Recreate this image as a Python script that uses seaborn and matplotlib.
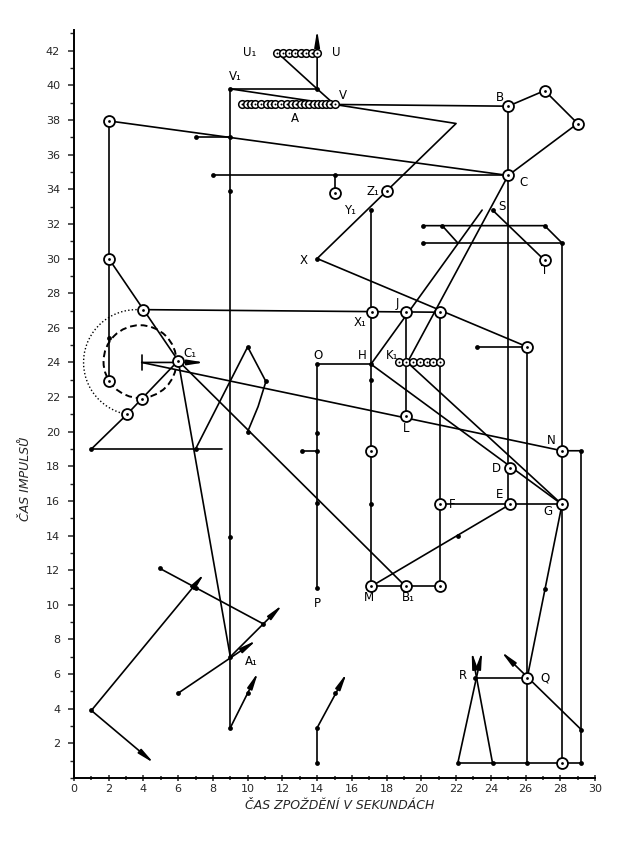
import numpy as np
import pandas as pd
import matplotlib
matplotlib.use("Agg")
import matplotlib.pyplot as plt
import seaborn as sns
from matplotlib.patches import Circle, Arc

# ---------------- data ----------------
x_ticks = list(range(0, 31, 2))
y_ticks = list(range(2, 43, 2))
x_label = "ČAS ZPOŽDĚNÍ V SEKUNDÁCH"
y_label = "ČAS IMPULSŮ"

top_paths = [
    [(11.7, 41.9), (14.0, 39.8), (15.0, 38.9)],
    [(9.0, 39.8), (14.0, 39.8)],
    [(9.0, 39.8), (15.0, 38.9)],
    [(15.0, 38.9), (25.0, 38.8)],
    [(15.0, 38.9), (22.0, 37.8), (14.0, 30.0), (26.1, 24.9)],
    [(25.0, 38.8), (27.1, 39.7), (29.0, 37.8), (25.0, 34.8)],
    [(2.0, 37.95), (25.0, 34.8)],
    [(7.0, 37.0), (9.0, 37.0)],
    [(8.0, 34.8), (25.0, 34.8)],
    [(15.0, 34.8), (15.0, 33.8)],
]

vertical_paths = [
    [(9.0, 39.8), (9.0, 2.9)],
    [(2.0, 37.95), (2.0, 22.9)],
    [(25.0, 38.8), (25.0, 15.8)],
    [(17.1, 32.8), (17.1, 11.06)],
    [(14.0, 23.9), (14.0, 11.0)],
    [(19.1, 26.9), (19.1, 20.9)],
    [(21.1, 26.9), (21.1, 11.06)],
    [(26.1, 24.9), (26.1, 0.86)],
    [(28.1, 30.9), (28.1, 0.86)],
    [(29.2, 18.9), (29.2, 0.86)],
]

mid_paths = [
    [(2.0, 30.0), (4.0, 27.05), (6.0, 24.1), (19.1, 11.06)],
    [(4.0, 27.05), (21.1, 26.9)],
    [(14.0, 23.9), (17.1, 23.9)],
    [(13.1, 18.9), (14.0, 18.9)],
    [(17.1, 23.9), (23.5, 32.8)],
    [(19.2, 24.0), (25.0, 34.8)],
    [(24.1, 32.8), (27.1, 29.9)],
    [(20.1, 31.9), (27.1, 31.9), (28.1, 30.9)],
    [(20.1, 30.9), (28.1, 30.9)],
    [(21.2, 31.9), (22.1, 30.9)],
    [(23.2, 24.9), (26.1, 24.9)],
    [(17.1, 11.06), (21.1, 11.06)],
    [(17.1, 11.06), (25.1, 15.8)],
    [(21.1, 15.8), (28.1, 15.8)],
    [(17.1, 23.9), (28.1, 15.8)],
    [(19.2, 24.0), (28.1, 15.8)],
    [(28.1, 15.8), (26.1, 5.8)],
    [(3.9, 24.0), (28.1, 18.9), (29.2, 18.9)],
]

left_paths = [
    [(1.0, 19.0), (3.05, 21.0), (3.9, 21.9), (6.0, 24.1)],
    [(1.0, 19.0), (8.5, 19.0)],
    [(6.0, 24.1), (9.0, 7.0)],
    [(7.0, 19.0), (10.0, 24.9), (11.05, 22.9), (10.6, 21.45), (10.0, 20.0)],
    [(3.9, 23.55), (3.9, 24.45)],
    [(4.95, 12.1), (10.9, 8.9)],
]

lower_paths = [
    [(22.1, 0.86), (29.2, 0.86)],
    [(23.1, 5.8), (26.1, 5.8)],
    [(14.0, 0.86), (14.0, 2.9)],
]

arrows = [  # (start, tip)
    ((14.0, 39.8), (14.0, 43.2)),
    ((3.9, 24.0), (7.5, 24.0)),
    ((1.0, 3.9), (7.5, 11.8)),
    ((1.0, 3.9), (4.6, 0.86)),
    ((6.0, 4.9), (10.5, 7.95)),
    ((9.0, 7.0), (12.0, 10.0)),
    ((9.0, 2.9), (10.6, 6.1)),
    ((14.0, 2.9), (15.7, 6.05)),
    ((29.2, 2.8), (24.6, 7.3)),
    ((22.1, 0.86), (23.5, 7.3)),
    ((24.1, 0.86), (22.9, 7.3)),
]

circle_x = [2.0, 2.0, 2.0, 4.0, 3.05, 3.9, 6.0, 15.0, 18.0, 25.0, 27.1, 29.0, 25.0, 27.1,
            17.15, 19.1, 21.1, 26.1, 19.1, 17.1, 28.1, 25.1, 25.1, 21.1, 28.1, 17.1,
            19.1, 21.1, 26.1, 28.1]
circle_y = [37.95, 30.0, 22.9, 27.05, 21.0, 21.9, 24.1, 33.8, 33.9, 38.8, 39.7, 37.8, 34.8, 29.9,
            26.9, 26.9, 26.9, 24.9, 20.9, 18.9, 18.9, 17.9, 15.8, 15.8, 15.8, 11.06,
            11.06, 11.06, 5.8, 0.86]

dot_x = [9.0, 14.0, 7.0, 9.0, 9.0, 8.0, 15.0, 9.0, 14.0, 17.1, 24.1, 20.1, 21.2, 27.1, 20.1,
         28.1, 14.0, 17.1, 17.1, 17.1, 14.0, 14.0, 13.1, 14.0, 14.0, 23.2, 29.2, 29.2,
         22.1, 24.1, 26.1, 29.2, 23.1, 27.1, 22.1, 2.0, 1.0, 7.0, 10.0, 11.05, 10.0,
         4.95, 10.9, 6.0, 9.0, 9.0, 10.0, 14.0, 14.0, 15.0, 1.0, 7.0]
dot_y = [39.8, 39.8, 37.0, 37.0, 33.9, 34.8, 34.8, 13.9, 30.0, 32.8, 32.8, 31.9, 31.9, 31.9, 30.9,
         30.9, 23.9, 23.9, 23.0, 15.8, 19.9, 18.9, 18.9, 15.9, 11.0, 24.9, 18.9, 2.8,
         0.86, 0.86, 0.86, 0.86, 5.8, 10.9, 14.0, 25.4, 19.0, 19.0, 24.9, 22.9, 20.0,
         12.1, 8.9, 4.9, 7.0, 2.9, 4.9, 0.86, 2.9, 4.9, 3.9, 11.0]

chain_u_x = [11.7, 12.05, 12.4, 12.7, 13.05, 13.35, 13.7, 14.0]
chain_u_y = 41.9
chain_a_x = [9.7, 9.95, 10.2, 10.45, 10.75, 11.1, 11.35, 11.6, 11.9, 12.25, 12.55,
             12.8, 13.05, 13.3, 13.55, 13.8, 14.05, 14.3, 14.5, 14.75, 15.0]
chain_a_y = 38.9
chain_k_x = [18.7, 19.1, 19.5, 19.9, 20.3, 20.7, 21.1]
chain_k_y = 24.0

point_labels = ["U₁", "U", "V₁", "V", "A", "B", "C", "Z₁", "Y₁", "S", "T", "X", "X₁",
                "J", "O", "H", "K₁", "L", "N", "D", "E", "F", "G", "C₁", "A₁", "P",
                "M", "B₁", "R", "Q"]
label_x = [10.1, 15.1, 9.3, 15.5, 12.7, 24.5, 25.9, 17.2, 15.9, 24.65, 27.1, 13.2, 16.5,
           18.6, 14.05, 16.6, 18.3, 19.1, 27.5, 24.3, 24.5, 21.8, 27.3, 6.7, 10.2, 14.0,
           17.0, 19.25, 22.4, 27.1]
label_y = [41.9, 41.9, 40.5, 39.4, 38.1, 39.3, 34.4, 33.9, 32.8, 33.0, 29.3, 29.9, 26.3,
           27.4, 24.4, 24.4, 24.4, 20.2, 19.5, 17.9, 16.4, 15.8, 15.4, 24.5, 6.7, 10.1,
           10.4, 10.4, 5.9, 5.8]

dashed_circle = (3.8, 24.05, 2.1)
dotted_arc = (3.6, 24.0, 3.05, 82, 260)

# ---------------- drawing ----------------
sns.set_theme(style="ticks")
plt.rcParams["font.family"] = ["DejaVu Sans"]

fig = plt.figure(figsize=(6.27, 8.41), dpi=100)
ax = fig.add_axes([74 / 627, 63 / 841, 521 / 627, 748 / 841])

rows = []
pid = 0
for group in (top_paths, vertical_paths, mid_paths, left_paths, lower_paths):
    for path in group:
        for k, (px, py) in enumerate(path):
            rows.append({"pid": pid, "k": k, "x": px, "y": py})
        pid += 1
df = pd.DataFrame(rows)
sns.lineplot(data=df, x="x", y="y", units="pid", estimator=None, sort=False,
             color="black", lw=1.2, legend=False, ax=ax)

for (sx, sy), (tx, ty) in arrows:
    ax.annotate("", xy=(tx, ty), xytext=(sx, sy), annotation_clip=False,
                arrowprops=dict(arrowstyle="-|>,head_length=0.8,head_width=0.13",
                                lw=1.2, color="black", shrinkA=0, shrinkB=0))

cx, cy, r = dashed_circle
ax.add_patch(Circle((cx, cy), r, fill=False, ls=(0, (3.5, 2)), lw=1.4, color="black"))
ax2x, ax2y, r2, t1, t2 = dotted_arc
ax.add_patch(Arc((ax2x, ax2y), 2 * r2, 2 * r2, theta1=t1, theta2=t2,
                 ls=(0, (1, 1.6)), lw=1.0, color="black"))

# small dots
sns.scatterplot(x=dot_x, y=dot_y, s=12, color="black", edgecolor="black",
                linewidth=0, zorder=4, ax=ax, legend=False)

# chains of small circles
for xs, yv in ((chain_u_x, chain_u_y), (chain_a_x, chain_a_y), (chain_k_x, chain_k_y)):
    ys = [yv] * len(xs)
    sns.scatterplot(x=xs, y=ys, s=30, color="white", edgecolor="black",
                    linewidth=1.1, zorder=5, ax=ax, legend=False)
    sns.scatterplot(x=xs, y=ys, s=2, color="black", linewidth=0, zorder=6,
                    ax=ax, legend=False)

# circled points
sns.scatterplot(x=circle_x, y=circle_y, s=62, color="white", edgecolor="black",
                linewidth=1.3, zorder=5, ax=ax, legend=False)
sns.scatterplot(x=circle_x, y=circle_y, s=4, color="black", linewidth=0,
                zorder=6, ax=ax, legend=False)

for t, lx, ly in zip(point_labels, label_x, label_y):
    ax.text(lx, ly, t, ha="center", va="center", fontsize=8.5, color="black", zorder=7)

ax.set_xlim(0, 30)
ax.set_ylim(0, 43.2)
ax.set_xticks(x_ticks)
ax.set_xticklabels([str(v) for v in x_ticks], fontsize=8)
ax.set_yticks(y_ticks)
ax.set_yticklabels([str(v) for v in y_ticks], fontsize=8)
ax.set_xticks(range(0, 31), minor=True)
ax.set_yticks(range(0, 44), minor=True)
ax.tick_params(axis="x", which="both", direction="inout", length=5, width=1.1, pad=2)
ax.tick_params(axis="y", which="major", direction="out", length=4, width=1.1, pad=6)
ax.tick_params(axis="y", which="minor", direction="out", length=3, width=1.0)
ax.tick_params(axis="x", which="minor", length=3)
for side in ("top", "right"):
    ax.spines[side].set_visible(False)
for side in ("left", "bottom"):
    ax.spines[side].set_linewidth(1.4)
    ax.spines[side].set_color("black")

ax.set_xlabel(x_label, fontsize=9, fontstyle="italic")
ax.set_ylabel(y_label, fontsize=9, fontstyle="italic")
ax.xaxis.set_label_coords(0.509, -0.028)
ax.yaxis.set_label_coords(-0.08, 0.40)
ax.grid(False)

fig.savefig("out.png", dpi=100, facecolor="white")
